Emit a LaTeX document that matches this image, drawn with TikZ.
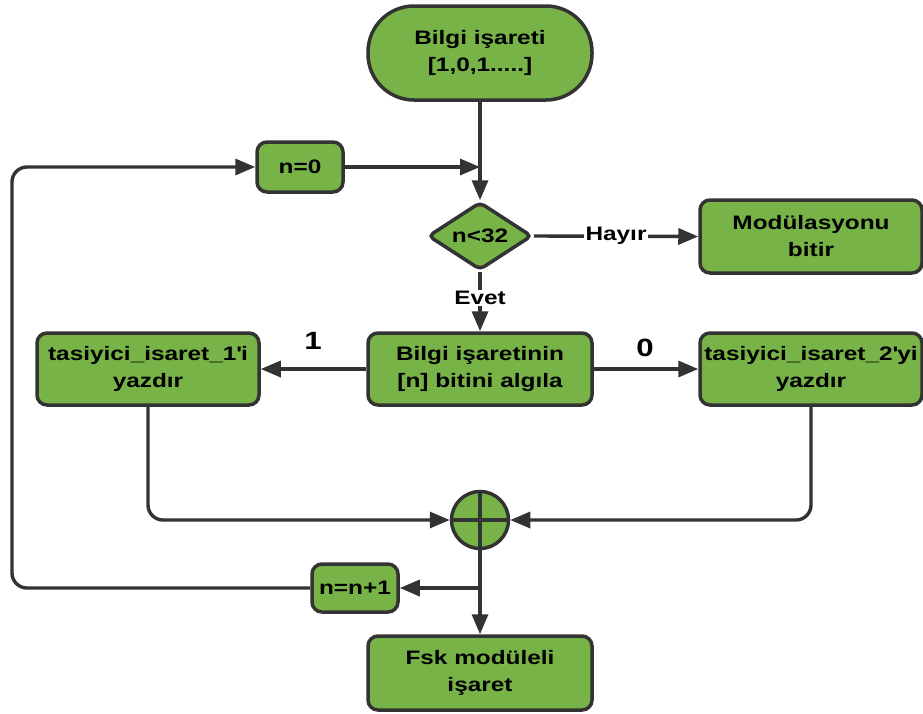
\documentclass[tikz,border=0pt]{standalone}
\usepackage{fontspec}
\setmainfont{Liberation Sans}[FakeStretch=1.25]
\usetikzlibrary{arrows.meta,shapes.geometric}
\definecolor{boxgreen}{HTML}{77B347}
\definecolor{ink}{HTML}{333333}

\begin{document}
\begin{tikzpicture}[x=1pt,y=-1pt,
  every node/.style={font=\fontsize{19.5}{27}\selectfont\bfseries, text=black},
  flowbox/.style={draw=ink, line width=3.5pt, fill=boxgreen, rounded corners=10pt,
                  align=center, inner sep=0pt},
  link/.style={draw=ink, line width=3.4pt, -{Triangle[length=20pt,width=16pt]}},
  plain/.style={draw=ink, line width=3.4pt},
  tag/.style={fill=white, inner sep=1.5pt},
  bigtag/.style={font=\fontsize{25}{30}\selectfont\bfseries}]

\useasboundingbox (0,0) rectangle (923,713);

% blocks
\node[flowbox, rounded corners=46pt, minimum width=224pt, minimum height=94pt]
  (start) at (480,53) {Bilgi işareti\\{}[1,0,1.....]};
\node[flowbox, minimum width=86pt, minimum height=50pt] (zero) at (300,167) {n=0};
\node[flowbox, shape=diamond, rounded corners=5pt, minimum width=104pt,
      minimum height=68pt, aspect=1.53] (test) at (480,236) {n<32};
\node[flowbox, minimum width=222pt, minimum height=73pt] (stop) at (811,236.5) {Modülasyonu\\bitir};
\node[flowbox, minimum width=224pt, minimum height=72pt] (detect) at (480,369)
  {Bilgi işaretinin\\{}[n] bitini algıla};
\node[flowbox, minimum width=222pt, minimum height=72pt] (carrierA) at (148,369)
  {tasiyici\_isaret\_1\textquotesingle i\\yazdır};
\node[flowbox, minimum width=222pt, minimum height=72pt] (carrierB) at (811,369)
  {tasiyici\_isaret\_2\textquotesingle yi\\yazdır};
\node[flowbox, shape=circle, minimum size=57pt] (sum) at (480,520) {};
\node[flowbox, minimum width=86pt, minimum height=48pt] (incr) at (355,588) {n=n+1};
\node[flowbox, minimum width=224pt, minimum height=74pt] (out) at (480,673) {Fsk modüleli\\işaret};

% helper points
\coordinate (join) at (480,167);
\coordinate (split) at (480,588);
\coordinate (loopbot) at (12,588);
\coordinate (looptop) at (12,167);

% summing junction cross
\draw[plain] (sum.north) -- (sum.south) (sum.west) -- (sum.east);

% connectors
\draw[link] (start) -- (test);
\draw[link] (zero.east) -- (join);
\draw[link] (test.east) -- node[tag] (no) {Hayır} (stop.west);
\draw[link] (test.south) -- node[tag, pos=0.44] (yes) {Evet} (detect.north);
\draw[link] (detect.west) -- (carrierA.east);
\draw[link] (detect.east) -- (carrierB.west);
\node[bigtag] (one) at (313,341) {1};
\node[bigtag] (nil) at (645,348) {0};
\draw[link, rounded corners=15pt] (carrierA.south) |- (sum.west);
\draw[link, rounded corners=15pt] (carrierB.south) |- (sum.east);
\draw[link] (sum.south) -- (out.north);
\draw[link] (split) -- (incr.east);
\draw[link, rounded corners=15pt] (incr.west) -- (loopbot) -- (looptop) -- (zero.west);
\end{tikzpicture}
\end{document}
